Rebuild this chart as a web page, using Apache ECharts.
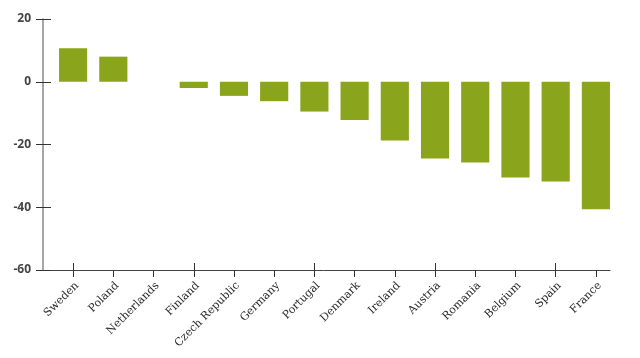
<!DOCTYPE html>
<html>
<head>
<meta charset="utf-8">
<script src="https://cdn.jsdelivr.net/npm/echarts@6/dist/echarts.min.js"></script>
<style>html,body{margin:0;padding:0;background:#fff}#c{width:640px;height:358px}</style>
</head>
<body>
<div id="c"></div>
<script>
var categories = ['Sweden','Poland','Netherlands','Finland','Czech Republic','Germany','Portugal','Denmark','Ireland','Austria','Romania','Belgium','Spain','France'];
var values = [10.7, 8.0, 0, -2.0, -4.5, -6.2, -9.5, -12.2, -18.7, -24.5, -25.7, -30.5, -31.8, -40.6];
var yTicks = [-60, -40, -20, 0, 20];

var chart = echarts.init(document.getElementById('c'), null, {renderer: 'canvas'});
var yMin = yTicks[0], yMax = yTicks[yTicks.length - 1];
chart.setOption({
  animation: false,
  grid: [
    {left: 53, right: 24, top: 19, bottom: 88},
    {left: 37, right: 30, top: 19, bottom: 88}
  ],
  xAxis: [
    {
      type: 'category', data: categories, gridIndex: 0, position: 'bottom',
      axisLine: {onZero: false, show: true, lineStyle: {color: 'rgba(0,0,0,0)'}},
      axisTick: {show: true, alignWithLabel: true, length: 7, lineStyle: {color: '#333', width: 1}},
      axisLabel: {rotate: 45, margin: 10, verticalAlign: 'top', interval: 0, fontFamily: 'DejaVu Serif', fontSize: 11, color: '#2a2a2a'}
    },
    {
      type: 'category', data: categories, gridIndex: 0, position: 'bottom',
      axisLine: {onZero: false, show: true, lineStyle: {color: 'rgba(0,0,0,0)'}},
      axisTick: {show: true, alignWithLabel: true, inside: true, length: 7, lineStyle: {color: '#333', width: 1}},
      axisLabel: {show: false}
    },
    {
      type: 'value', gridIndex: 1, position: 'bottom', min: 0, max: 1,
      axisLine: {show: true, onZero: false, lineStyle: {color: '#444', width: 1}},
      axisTick: {show: false}, axisLabel: {show: false}, splitLine: {show: false}
    }
  ],
  yAxis: [
    {
      type: 'value', gridIndex: 0, min: yMin, max: yMax, interval: 20, offset: 10,
      axisLine: {show: true, onZero: false, lineStyle: {color: '#888', width: 1.5}},
      axisTick: {show: true, length: 7, lineStyle: {color: '#333', width: 1}},
      axisLabel: {margin: 12, fontFamily: 'Open Sans', fontWeight: 'bold', fontSize: 12, color: '#444'},
      splitLine: {show: false}
    },
    {
      type: 'value', gridIndex: 0, min: yMin, max: yMax, interval: 20, offset: 10, position: 'left',
      axisLine: {show: false},
      axisTick: {show: true, inside: true, length: 8, lineStyle: {color: '#333', width: 1}},
      axisLabel: {show: false}, splitLine: {show: false}
    },
    {
      type: 'value', gridIndex: 1, min: 0, max: 1, show: false
    }
  ],
  series: [
    {
      type: 'bar', xAxisIndex: 0, yAxisIndex: 0, data: values, barWidth: '70%',
      itemStyle: {color: '#8AA51B'}
    }
  ]
});
</script>
</body>
</html>
